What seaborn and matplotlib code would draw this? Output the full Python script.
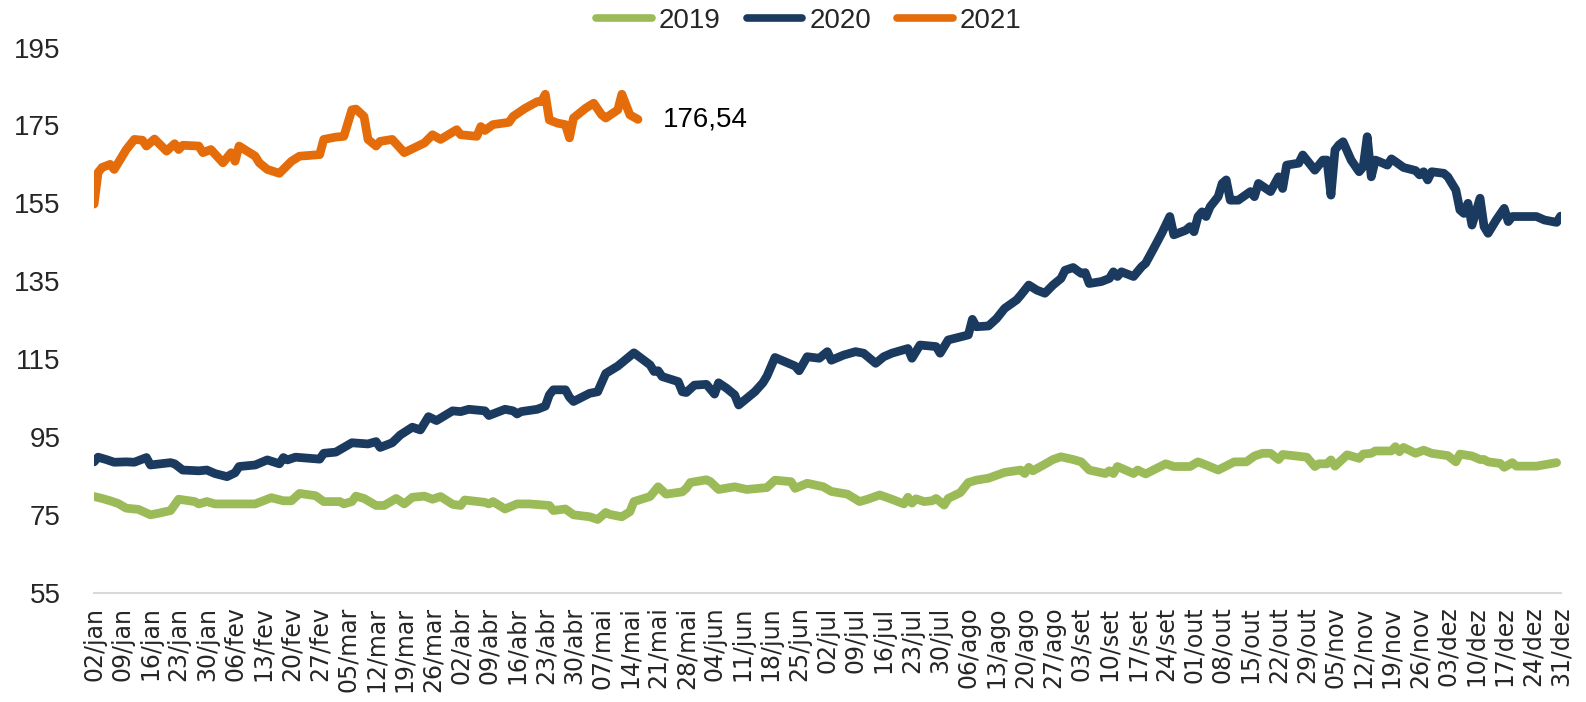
import numpy as np
import pandas as pd
import matplotlib
matplotlib.use("Agg")
import matplotlib.pyplot as plt
import seaborn as sns

# day index counted from 02/jan (axis uses a leap-year calendar, 02/jan .. 31/dez)
days_2019 = [0, 2, 4, 6, 8, 11, 14, 16, 19, 21, 25, 26, 28, 30, 40, 44, 47, 49, 51, 55,
             57, 61, 62, 64, 65, 67, 70, 72, 75, 77, 79, 82, 84, 86, 89, 91, 92, 97, 98, 99,
             102, 105, 108, 113, 114, 117, 119, 123, 125, 127, 128, 131, 133, 134, 138, 140, 142, 146, 147, 148,
             152, 153, 155, 159, 162, 165, 167, 169, 173, 174, 177, 181, 183, 187, 190, 192, 195, 198, 201, 202,
             203, 204, 206, 208, 209, 211, 212, 215, 217, 219, 222, 226, 230, 231, 232, 233, 236, 238, 240, 243,
             245, 247, 251, 252, 253, 254, 258, 259, 261, 266, 268, 272, 274, 276, 279, 283, 286, 288, 290, 292,
             294, 295, 301, 303, 304, 306, 307, 308, 311, 314, 315, 317, 318, 322, 323, 324, 325, 328, 330, 332,
             336, 338, 339, 342, 344, 345, 346, 349, 350, 352, 353, 358, 363]
vals_2019 = [79.7, 79.2, 78.6, 77.9, 76.7, 76.4, 75.0, 75.4, 76.1, 79.0, 78.4, 77.8, 78.4, 77.8, 77.8, 79.4, 78.6, 78.6, 80.5, 79.9,
             78.4, 78.4, 77.8, 78.4, 79.8, 79.2, 77.4, 77.4, 79.2, 77.8, 79.5, 79.8, 79.0, 79.7, 77.7, 77.4, 78.8, 78.2, 77.8, 78.4,
             76.5, 77.8, 77.8, 77.4, 76.1, 76.5, 75.0, 74.5, 73.8, 75.6, 75.1, 74.5, 75.8, 78.4, 79.7, 82.2, 80.3, 80.9, 81.8, 83.3,
             84.0, 83.5, 81.5, 82.2, 81.5, 81.8, 82.0, 83.9, 83.5, 81.8, 83.1, 82.2, 81.0, 80.3, 78.4, 79.0, 80.1, 79.0, 77.8, 79.5,
             78.0, 79.1, 78.4, 78.6, 79.2, 77.5, 79.2, 80.7, 83.3, 83.9, 84.4, 85.9, 86.5, 85.6, 87.2, 86.3, 88.0, 89.2, 89.9, 89.2,
             88.6, 86.5, 85.6, 86.3, 85.6, 87.4, 85.6, 86.5, 85.5, 88.1, 87.4, 87.4, 88.6, 87.8, 86.5, 88.6, 88.6, 90.1, 90.8, 90.8,
             89.2, 90.5, 89.8, 87.4, 88.1, 88.1, 89.1, 87.5, 90.4, 89.5, 90.6, 90.8, 91.4, 91.4, 92.5, 91.2, 92.3, 90.8, 91.6, 90.8,
             90.2, 88.6, 90.6, 90.1, 89.2, 89.2, 88.6, 88.2, 87.2, 88.4, 87.5, 87.5, 88.4]

days_2020 = [0, 1, 3, 5, 8, 10, 13, 14, 19, 20, 22, 26, 28, 30, 33, 35, 36, 40, 43, 46,
             47, 48, 50, 56, 57, 60, 64, 68, 70, 71, 74, 76, 79, 81, 83, 85, 89, 91, 93, 97,
             98, 102, 104, 105, 106, 110, 112, 113, 114, 117, 118, 119, 123, 125, 127, 130, 134, 138, 139, 140,
             141, 145, 146, 147, 149, 152, 154, 155, 157, 159, 160, 162, 164, 166, 167, 169, 174, 175, 177, 180,
             182, 183, 186, 189, 191, 194, 196, 198, 202, 203, 205, 209, 210, 212, 217, 218, 219, 222, 224, 226,
             229, 230, 232, 234, 236, 238, 240, 241, 243, 245, 246, 247, 250, 252, 253, 254, 255, 258, 260, 261,
             263, 265, 267, 268, 271, 272, 273, 274, 275, 276, 277, 279, 280, 281, 282, 284, 287, 288, 289, 292,
             294, 295, 296, 299, 300, 302, 303, 305, 306, 307, 308, 309, 310, 312, 314, 315, 316, 317, 318, 319,
             321, 322, 323, 325, 328, 329, 330, 331, 332, 335, 336, 338, 339, 340, 341, 342, 344, 345, 346, 348,
             350, 351, 352, 358, 360, 363, 364]
vals_2020 = [88.6, 89.8, 89.2, 88.5, 88.6, 88.5, 89.7, 87.8, 88.4, 88.1, 86.5, 86.3, 86.5, 85.6, 84.8, 85.8, 87.4, 87.8, 89.1, 88.1,
             89.7, 89.1, 89.8, 89.3, 90.8, 91.1, 93.5, 93.2, 93.8, 92.3, 93.5, 95.5, 97.5, 96.8, 100.2, 99.2, 101.7, 101.5, 102.1, 101.7,
             100.5, 102.1, 101.7, 100.9, 101.5, 102.1, 102.9, 105.8, 107.1, 107.1, 105.2, 104.1, 106.2, 106.6, 111.3, 113.2, 116.6, 113.5, 111.8, 112.0,
             110.5, 109.2, 106.6, 106.4, 108.3, 108.5, 106.0, 108.9, 107.5, 105.8, 103.2, 104.9, 106.6, 108.9, 110.6, 115.4, 113.2, 112.0, 115.6, 115.2,
             116.9, 114.7, 116.0, 116.9, 116.5, 113.9, 115.6, 116.5, 117.7, 115.2, 118.6, 118.2, 116.5, 119.9, 121.2, 125.2, 123.3, 123.5, 125.4, 128.0,
             130.2, 131.4, 134.0, 132.7, 131.9, 134.0, 135.7, 137.8, 138.5, 137.0, 137.2, 134.4, 134.9, 135.7, 137.4, 136.2, 137.4, 136.2, 138.7, 139.6,
             143.4, 147.3, 151.6, 146.9, 148.1, 149.0, 147.7, 151.6, 152.8, 151.6, 154.1, 156.7, 160.1, 161.0, 155.8, 155.8, 158.0, 156.7, 160.1, 158.0,
             161.8, 158.8, 164.8, 165.3, 167.4, 164.8, 163.5, 166.1, 166.1, 157.1, 168.7, 170.0, 170.8, 166.1, 163.1, 164.4, 172.1, 161.8, 166.1, 165.7,
             164.8, 166.4, 165.7, 164.2, 163.4, 162.3, 163.1, 161.0, 163.1, 162.7, 161.8, 158.4, 153.3, 152.4, 155.0, 149.4, 156.3, 149.0, 147.3, 150.7,
             153.7, 150.3, 151.6, 151.6, 150.7, 150.1, 151.7]

days_2021 = [0, 1, 2, 4, 5, 8, 10, 12, 13, 15, 18, 20, 21, 22, 26, 27, 29, 32, 34, 35,
             36, 40, 41, 43, 46, 49, 51, 56, 57, 60, 62, 64, 65, 67, 68, 70, 71, 74, 77, 82,
             84, 86, 90, 91, 95, 96, 97, 99, 103, 104, 107, 110, 111, 112, 113, 115, 117, 118, 119, 122,
             124, 126, 127, 130, 131, 133, 135]
vals_2021 = [154.8, 162.9, 164.2, 165.0, 163.7, 168.8, 171.4, 171.2, 169.7, 171.5, 168.4, 170.3, 168.8, 169.9, 169.7, 168.0, 168.8, 165.4, 168.0, 165.8,
             169.7, 167.1, 165.4, 163.7, 162.7, 165.8, 167.1, 167.5, 171.4, 172.0, 172.2, 179.0, 179.2, 177.3, 171.4, 169.7, 170.9, 171.4, 168.0, 170.5,
             172.6, 171.4, 173.9, 172.6, 172.2, 174.7, 173.7, 175.2, 175.8, 177.3, 179.4, 181.1, 181.1, 183.0, 176.4, 175.6, 175.2, 171.8, 176.9, 179.4,
             180.7, 177.7, 176.9, 179.0, 183.0, 177.7, 176.54]

years = ["2019", "2020", "2021"]
colors = ["#9BBB59", "#1B3A5F", "#E46C0A"]
month_abbr = ["jan", "fev", "mar", "abr", "mai", "jun", "jul", "ago", "set", "out", "nov", "dez"]
last_label = "176,54"

df = pd.concat([
    pd.DataFrame({"day": days_2019, "value": vals_2019, "year": "2019"}),
    pd.DataFrame({"day": days_2020, "value": vals_2020, "year": "2020"}),
    pd.DataFrame({"day": days_2021, "value": vals_2021, "year": "2021"}),
])

# weekly tick labels
tick_dates = pd.date_range("2020-01-02", "2020-12-31", freq="7D")
tick_pos = [(d - tick_dates[0]).days for d in tick_dates]
tick_labels = [f"{d.day:02d}/{month_abbr[d.month - 1]}" for d in tick_dates]

sns.set_style("white")
label_font = ["Liberation Sans", "DejaVu Sans"]

fig = plt.figure(figsize=(15.86, 7.02), dpi=100)
ax = fig.add_axes([0.0593, 0.1557, 0.9247, 0.7766])

sns.lineplot(data=df, x="day", y="value", hue="year", hue_order=years,
             palette=dict(zip(years, colors)), estimator=None, sort=True,
             linewidth=6.3, legend=False, ax=ax,
             solid_capstyle="round", solid_joinstyle="round")

ax.set_xlim(0, 364)
ax.set_ylim(55, 195)
ax.set_yticks(np.arange(55, 196, 20))
ax.set_xticks(tick_pos)
ax.set_xticklabels(tick_labels, rotation=90, fontsize=17, family="DejaVu Sans")
for t in ax.get_yticklabels():
    t.set_family(label_font)
    t.set_fontsize(20)
ax.tick_params(axis="x", length=0, pad=10)
ax.tick_params(axis="y", length=0, pad=24)
ax.set_xlabel("")
ax.set_ylabel("")

for s in ["top", "right", "left"]:
    ax.spines[s].set_visible(False)
ax.spines["bottom"].set_color("#D9D9D9")
ax.spines["bottom"].set_linewidth(1.5)

# value label at end of 2021 series
ax.annotate(last_label, xy=(days_2021[-1], vals_2021[-1]), xytext=(18, 0),
            textcoords="offset points", ha="left", va="center",
            fontsize=20, family=label_font, color="black")

handles = [plt.Line2D([], [], color=c, lw=5.5, solid_capstyle="round") for c in colors]
fig.legend(handles, years, loc="center", bbox_to_anchor=(0.51, 0.97), ncol=3,
           frameon=False, prop={"family": label_font, "size": 20},
           handlelength=2.0, handletextpad=0.25, columnspacing=0.95)

fig.savefig("out.png", dpi=100)
